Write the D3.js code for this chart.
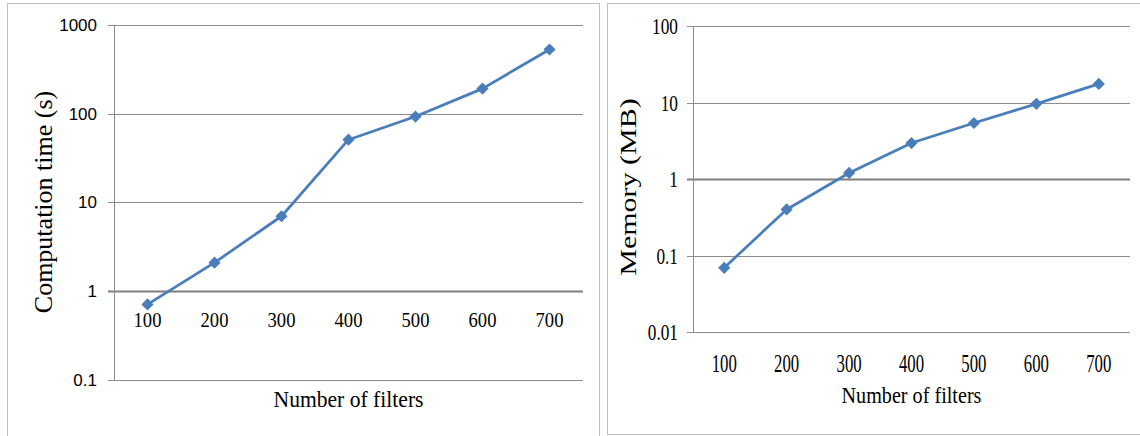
<!DOCTYPE html>
<html>
<head>
<meta charset="utf-8">
<script src="https://cdn.jsdelivr.net/npm/d3@7"></script>
<style>
  html, body { margin: 0; padding: 0; background: #fff; }
  svg { display: block; }
</style>
</head>
<body>
<div id="chart"></div>
<script>
var filters = [100, 200, 300, 400, 500, 600, 700];
var timeSec = [0.71, 2.1, 7.0, 51, 93, 192, 530];
var memoryMB = [0.069, 0.40, 1.2, 2.95, 5.4, 9.6, 17.5];
var timeTicks = [0.1, 1, 10, 100, 1000];
var memTicks = [0.01, 0.1, 1, 10, 100];

var W = 1140, H = 436;
var lineColor = "#4a7ebb", gridColor = "#8c8c8c", axisColor = "#7f7f7f";
var serif = "'Liberation Serif', 'DejaVu Serif', serif";
var sans = "'Liberation Sans', Arial, sans-serif";

var svg = d3.select("#chart").append("svg").attr("width", W).attr("height", H);
svg.append("rect").attr("width", W).attr("height", H).attr("fill", "#fff");

// panel frames
svg.append("rect").attr("x", 7.5).attr("y", 3.5).attr("width", 592).attr("height", 440)
  .attr("fill", "none").attr("stroke", "#bfbfbf");
svg.append("rect").attr("x", 607.5).attr("y", 3.5).attr("width", 540).attr("height", 431)
  .attr("fill", "none").attr("stroke", "#bfbfbf");

function label(g, txt, x, y, o) {
  var t = g.append("text")
    .attr("transform", "translate(" + x + "," + y + ")" + (o.rot ? " rotate(-90)" : "") + " scale(" + (o.sx || 1) + ",1)")
    .attr("font-family", o.font).attr("font-size", o.size + "px")
    .attr("text-anchor", o.anchor || "middle").attr("fill", "#000")
    .text(txt);
  if (o.dy) t.attr("dy", o.dy);
  return t;
}

function panel(c) {
  var g = svg.append("g");
  var x = d3.scaleBand().domain(filters).range([c.left, c.right]);
  var y = d3.scaleLog().domain(d3.extent(c.ticks)).range([c.bottom, c.top]);
  var cx = function (d) { return x(d) + x.bandwidth() / 2; };

  g.selectAll(".grid").data(c.ticks).enter().append("line")
    .attr("x1", c.left - 6).attr("x2", c.right)
    .attr("y1", function (d) { return Math.round(y(d)) + 0.5; })
    .attr("y2", function (d) { return Math.round(y(d)) + 0.5; })
    .attr("stroke", function (d) { return d === 1 ? axisColor : gridColor; })
    .attr("stroke-width", function (d) { return d === 1 ? 2 : 1; });

  g.append("line").attr("x1", c.left + 0.5).attr("x2", c.left + 0.5)
    .attr("y1", y(c.ticks[c.ticks.length - 1])).attr("y2", y(c.ticks[0]))
    .attr("stroke", gridColor);

  c.ticks.forEach(function (d) {
    label(g, String(d), c.yLabX, y(d), { font: c.yFont, size: c.ySize, sx: c.ySx, anchor: "end", dy: "0.35em" });
  });
  filters.forEach(function (d) {
    label(g, String(d), cx(d), c.xLabY, { font: serif, size: c.xSize, sx: c.xSx });
  });

  label(g, "Number of filters", (c.left + c.right) / 2, c.xTitleY, { font: serif, size: c.xtSize, sx: c.xtSx });
  label(g, c.title, c.yTitleX, c.yTitleY, { font: serif, size: c.ytSize, sx: c.ytSx, rot: true });

  var line = d3.line().x(function (d, i) { return cx(filters[i]); }).y(function (d) { return y(d); });
  g.append("path").datum(c.values).attr("d", line)
    .attr("fill", "none").attr("stroke", lineColor).attr("stroke-width", 2.75)
    .attr("stroke-linejoin", "round");

  g.selectAll(".pt").data(c.values).enter().append("path")
    .attr("d", d3.symbol(d3.symbolSquare, 74))
    .attr("transform", function (d, i) { return "translate(" + cx(filters[i]) + "," + y(d) + ") rotate(45)"; })
    .attr("fill", lineColor);
}

panel({
  values: timeSec, ticks: timeTicks, title: "Computation time (s)",
  left: 114, right: 583, top: 25, bottom: 380,
  yLabX: 97, yFont: sans, ySize: 17, ySx: 1,
  xLabY: 327, xSize: 20, xSx: 0.93,
  xTitleY: 407, xtSize: 24, xtSx: 0.9,
  yTitleX: 52, yTitleY: 202, ytSize: 26, ytSx: 1
});

panel({
  values: memoryMB, ticks: memTicks, title: "Memory (MB)",
  left: 693, right: 1130, top: 26, bottom: 332,
  yLabX: 678, yFont: serif, ySize: 24, ySx: 0.72,
  xLabY: 372, xSize: 25, xSx: 0.67,
  xTitleY: 403, xtSize: 24, xtSx: 0.84,
  yTitleX: 636, yTitleY: 187, ytSize: 24, ytSx: 1.25
});
</script>
</body>
</html>
